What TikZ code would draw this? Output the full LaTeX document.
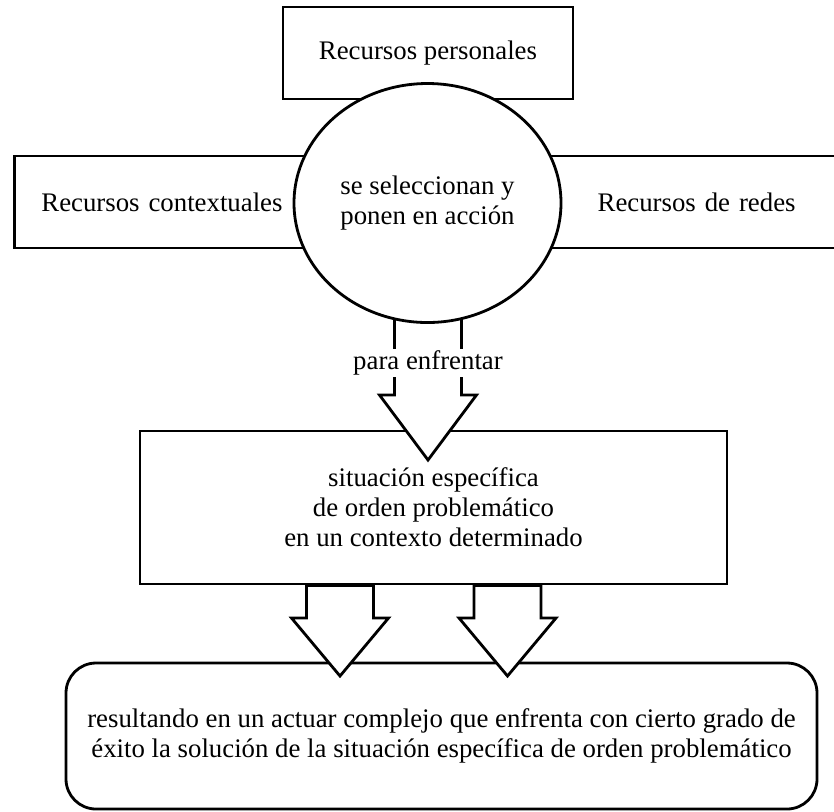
\documentclass[tikz,border=0pt]{standalone}
\usepackage{fontspec}
\setmainfont{Liberation Serif}
\usetikzlibrary{calc,positioning,shapes.geometric}
\tikzset{%
	caja/.style    = {draw, rectangle, fill=white, line width=1.4pt, align=center}, % Box
	cajared/.style = {caja, rounded corners=15pt}, % Rounded box
	nucleo/.style  = {draw, ellipse, fill=white, line width=1.4pt, align=center, inner sep=0pt}, % Ellipse
	rotulo/.style  = {fill=white, inner xsep=2pt, inner ysep=1pt}, % Label
	flecha/.style  = {draw, fill=white, line width=1.4pt, line join=miter}, % Block arrow
}
\newcommand{\flechabloque}[3]{% start, tip, head length
	\path[flecha] let \p1 = #1, \p2 = #2 in
		(\x2-16.75pt,\y1) -- (\x2-16.75pt,\y2+#3) -- (\x2-24.25pt,\y2+#3) -- (\x2,\y2)
		-- (\x2+24.25pt,\y2+#3) -- (\x2+16.75pt,\y2+#3) -- (\x2+16.75pt,\y1) -- cycle;
}

\begin{document}
\begin{tikzpicture}[x=0.5pt, y=-0.5pt, font=\fontsize{13.4}{15}\selectfont]
	\clip (0,0) rectangle (834,811);
	\coordinate (csel) at (427.5,203);
	\node[caja, minimum width=145pt, minimum height=46pt] (pers) at (428,53) {Recursos personales};
	\node[caja, anchor=west, text width=156.5pt, inner xsep=13.5pt, minimum height=46pt, align=left] (cont) at (13,202) {Recursos contextuales};
	\node[caja, anchor=east, text width=137pt, inner xsep=26.5pt, minimum height=46pt, align=right] (redes) at (850,202) {Recursos de redes};
	\node[caja, minimum width=293.5pt, minimum height=76.5pt] (sit) at (433.5,507.5) {situación específica\\de orden problemático\\en un contexto determinado};
	\node[cajared, minimum width=375.5pt, minimum height=73pt] (res) at (441.5,736) {resultando en un actuar complejo que enfrenta con cierto grado de\\éxito la solución de la situación específica de orden problemático};
	\coordinate (p1) at (428,460);
	\coordinate (p2) at (340,676);
	\coordinate (p3) at (507.5,676);
	\flechabloque{(p1 |- csel)}{(p1)}{32.5pt}
	\flechabloque{(p2 |- sit.south)}{(p2)}{29pt}
	\flechabloque{(p3 |- sit.south)}{(p3)}{29pt}
	\node[nucleo, minimum width=133.5pt, minimum height=119.5pt] (sel) at (csel) {se seleccionan y\\ponen en acción};
	\node[rotulo] (para) at (428,363) {para enfrentar};
\end{tikzpicture}
\end{document}
